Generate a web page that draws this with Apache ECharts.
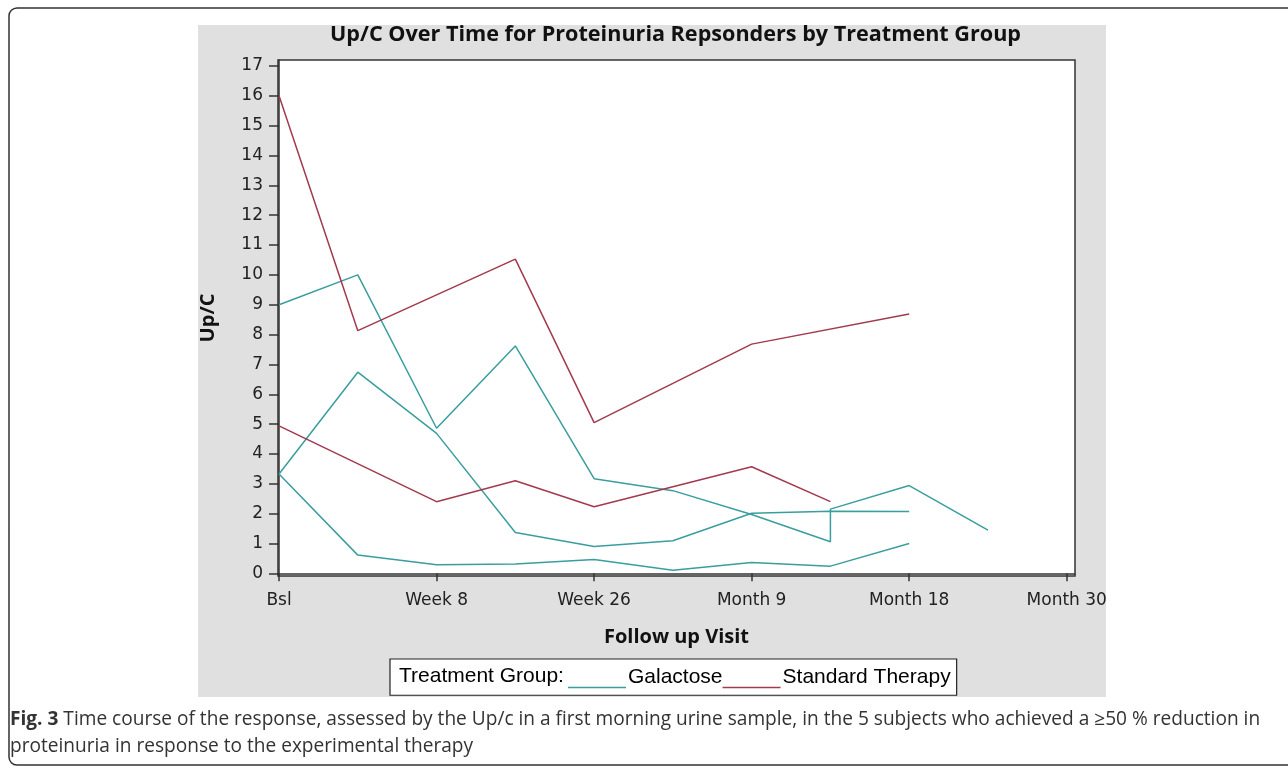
<!DOCTYPE html>
<html lang="en">
<head>
    <meta charset="UTF-8">
    <title>Up/C Over Time</title>
    <script src="https://cdn.jsdelivr.net/npm/echarts@6.0.0/dist/echarts.min.js"></script>
    <style>
        body{
            padding: 0px;
            margin: 0px;
            background-color: #fff;
        }
        #chart{
            width: 1288px;
            height: 769px;
        }
    </style>
</head>
<body>
<div id="chart"></div>
<script>
    // visit positions 0..10, only every second one has a label
    var visitLabels = {0: 'Bsl', 2: 'Week 8', 4: 'Week 26', 6: 'Month 9', 8: 'Month 18', 10: 'Month 30'};
    var xTicks = [0, 2, 4, 6, 8, 10];
    var yTicks = [0, 1, 2, 3, 4, 5, 6, 7, 8, 9, 10, 11, 12, 13, 14, 15, 16, 17];

    // Galactose subjects (pairs of visit index, Up/C)
    var galA = [[0, 9.0], [1, 10.0], [2, 4.86], [3, 7.62], [4, 3.17], [5, 2.77], [6, 1.97], [7, 1.06], [7, 2.15], [8, 2.94], [9, 1.45]];
    var galB = [[0, 3.33], [1, 6.74], [2, 4.69], [3, 1.37], [4, 0.90], [5, 1.09], [6, 2.01], [7, 2.08], [8, 2.07]];
    var galC = [[0, 3.33], [1, 0.61], [2, 0.29], [3, 0.31], [4, 0.46], [5, 0.10], [6, 0.36], [7, 0.24], [8, 1.0]];
    // Standard therapy subjects
    var stdD = [[0, 16.0], [1, 8.13], [3, 10.53], [4, 5.05], [6, 7.68], [8, 8.69]];
    var stdE = [[0, 4.94], [2, 2.40], [3, 3.10], [4, 2.23], [6, 3.57], [7, 2.40]];

    var teal = '#3a9e9e';
    var red = '#a23a4d';
    var chart = echarts.init(document.getElementById('chart'));

    function line(name, data, color) {
        return {
            name: name,
            type: 'line',
            data: data,
            symbol: 'none',
            color: color,
            lineStyle: {color: color, width: 1.5},
            emphasis: {disabled: true}
        };
    }

    chart.setOption({
        animation: false,
        title: {
            text: 'Up/C Over Time for Proteinuria Repsonders by Treatment Group',
            left: 330,
            top: 24,
            padding: 0,
            textStyle: {fontFamily: 'Open Sans', fontWeight: 'bold', fontSize: 21.6, color: '#111'}
        },
        graphic: [
            {type: 'rect', z: -10, shape: {x: 9, y: 8, width: 1290, height: 757, r: 8},
             style: {fill: '#fff', stroke: '#333', lineWidth: 1.5}},
            {type: 'rect', z: -9, shape: {x: 198, y: 25, width: 908, height: 672},
             style: {fill: '#e0e0e0'}},
            {type: 'text', z: 100, left: 399, top: 666,
             style: {text: 'Treatment Group:', fontFamily: 'Liberation Sans', fontSize: 21, fill: '#000'}},
            {type: 'text', z: 100, left: 10, top: 710,
             style: {
                 text: '{b|Fig. 3} Time course of the response, assessed by the Up/c in a first morning urine sample, in the 5 subjects who achieved a \u226550 % reduction in',
                 fontFamily: 'Open Sans', fontSize: 19.1, fill: '#333',
                 rich: {b: {fontFamily: 'Open Sans', fontWeight: 'bold', fontSize: 19.1, fill: '#333'}}
             }},
            {type: 'text', z: 100, left: 10, top: 737,
             style: {text: 'proteinuria in response to the experimental therapy',
                 fontFamily: 'Open Sans', fontSize: 19.1, fill: '#333'}}
        ],
        legend: {
            data: ['Galactose', 'Standard Therapy'],
            left: 390,
            top: 659,
            padding: [7, 6, 7, 178],
            itemGap: 0,
            itemWidth: 58,
            itemHeight: 23,
            icon: 'path://M0,0h0.1v0.1h-0.1z M0,21.5h60v1.5h-60z',
            backgroundColor: '#fff',
            borderColor: '#222',
            borderWidth: 1.2,
            borderRadius: 0,
            selectedMode: false,
            textStyle: {fontFamily: 'Liberation Sans', fontSize: 21, color: '#000', padding: [0, 0, 0, -3]}
        },
        grid: {
            left: 278,
            top: 60,
            right: 213,
            bottom: 193,
            show: true,
            backgroundColor: '#fff',
            borderColor: '#333',
            borderWidth: 1.5
        },
        xAxis: {
            type: 'value',
            min: -0.013,
            max: 10.105,
            name: 'Follow up Visit',
            nameLocation: 'middle',
            nameGap: 51,
            nameTextStyle: {fontFamily: 'Open Sans', fontWeight: 'bold', fontSize: 20, color: '#111'},
            axisLine: {show: true, lineStyle: {color: '#333', width: 1.5}},
            axisTick: {show: true, customValues: xTicks, length: 8, lineStyle: {color: '#333', width: 1.5}},
            axisLabel: {
                customValues: xTicks, margin: 16,
                fontFamily: 'DejaVu Sans', fontSize: 17, color: '#222',
                formatter: function (v) { return visitLabels[Math.round(v)] || ''; }
            },
            splitLine: {show: false}
        },
        yAxis: {
            type: 'value',
            min: -0.09,
            max: 17.2,
            name: 'Up/C',
            nameLocation: 'middle',
            nameGap: 60,
            nameTextStyle: {fontFamily: 'Open Sans', fontWeight: 'bold', fontSize: 20, color: '#111'},
            axisLine: {show: true, lineStyle: {color: '#333', width: 1.5}},
            axisTick: {show: true, customValues: yTicks, length: 10, lineStyle: {color: '#333', width: 1.5}},
            axisLabel: {
                customValues: yTicks, margin: 15,
                fontFamily: 'DejaVu Sans', fontSize: 17, color: '#222'
            },
            splitLine: {show: false}
        },
        series: [
            line('Galactose', galA, teal),
            line('Galactose', galB, teal),
            line('Galactose', galC, teal),
            line('Standard Therapy', stdD, red),
            line('Standard Therapy', stdE, red)
        ]
    });
</script>
</body>
</html>
